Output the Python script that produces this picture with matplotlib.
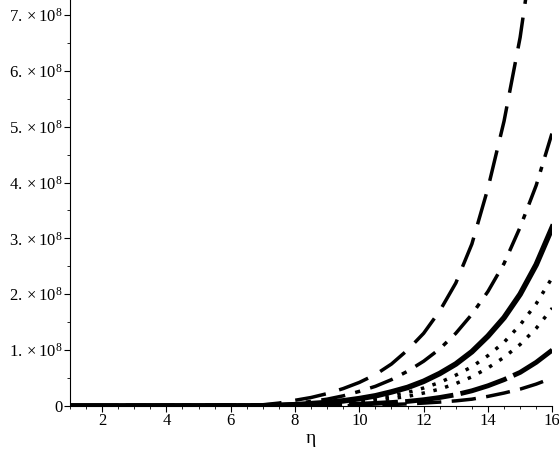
import matplotlib
matplotlib.use("Agg")
import matplotlib.pyplot as plt
import numpy as np

plt.rcParams['font.family'] = ['Liberation Serif', 'DejaVu Serif']
plt.rcParams['mathtext.fontset'] = 'custom'
plt.rcParams['mathtext.rm'] = 'Liberation Serif'
plt.rcParams['mathtext.it'] = 'Liberation Serif'

x = [1, 7, 7.5, 8, 8.5, 9, 9.5, 10, 10.5, 11, 11.5, 12, 12.5, 13, 13.5, 14, 14.5, 15, 15.5, 16]
long_dash = [0, 0.02, 0.05, 0.1, 0.15, 0.22, 0.31, 0.42, 0.56, 0.75, 1.0, 1.3, 1.7, 2.2, 2.9, 3.9, 5.1, 6.6, 8.6, 11.0]
dash_dot = [0, 0.01, 0.02, 0.04, 0.08, 0.12, 0.18, 0.26, 0.35, 0.47, 0.62, 0.8, 1.02, 1.3, 1.64, 2.05, 2.55, 3.2, 3.95, 4.9]
solid = [0, 0, 0.01, 0.02, 0.04, 0.06, 0.09, 0.13, 0.18, 0.25, 0.33, 0.44, 0.58, 0.75, 0.97, 1.25, 1.58, 2.0, 2.53, 3.2]
dotted1 = [0, 0, 0, 0.01, 0.025, 0.04, 0.06, 0.09, 0.13, 0.18, 0.24, 0.32, 0.42, 0.55, 0.7, 0.9, 1.14, 1.45, 1.83, 2.3]
dotted2 = [0, 0, 0, 0.01, 0.02, 0.03, 0.045, 0.07, 0.095, 0.13, 0.17, 0.23, 0.3, 0.4, 0.52, 0.68, 0.87, 1.1, 1.39, 1.75]
thick_dash = [0, 0, 0, 0, 0.005, 0.01, 0.02, 0.03, 0.045, 0.06, 0.08, 0.11, 0.15, 0.2, 0.27, 0.36, 0.47, 0.6, 0.78, 1.0]
dash = [0, 0, 0, 0, 0, 0, 0.005, 0.01, 0.017, 0.025, 0.035, 0.05, 0.068, 0.09, 0.12, 0.17, 0.23, 0.3, 0.39, 0.5]
yticks = [0, 1, 2, 3, 4, 5, 6, 7]

fig = plt.figure(figsize=(5.59, 4.54), dpi=100)
ax = fig.add_axes([0.125, 0.106, 0.863, 0.894])
s = 1e8
def P(y, **kw):
    ax.plot(x, np.array(y) * s, color='black', clip_on=True, **kw)
P(long_dash, lw=2.5, dashes=(9, 4))
P(dash_dot, lw=2.5, dashes=(7, 3, 1.5, 3))
P(solid, lw=4)
P(dotted1, lw=2.5, dashes=(1, 2.5))
P(dotted2, lw=2.5, dashes=(1, 2.5))
P(thick_dash, lw=3.5, dashes=(10, 1.5))
P(dash, lw=2.5, dashes=(7, 3))

ax.set_xlim(1, 16)
ax.set_ylim(0, 7.27e8)
ax.spines['top'].set_visible(False)
ax.spines['right'].set_visible(False)
ax.set_xticks([2, 4, 6, 8, 10, 12, 14, 16])
ax.set_xticks(np.arange(1, 16.01, 0.5), minor=True)
ax.set_yticks([v * s for v in yticks])
ax.set_yticks(np.arange(0, 7.2e8, 0.5e8), minor=True)
ax.set_yticklabels(['0'] + [r'$%d.\times10^{8}$' % v for v in yticks[1:]])
ax.tick_params(labelsize=12, length=4, pad=1)
ax.tick_params(which='minor', length=2)
ax.set_xlabel('η', fontsize=14, labelpad=1)
fig.savefig('out.png')
